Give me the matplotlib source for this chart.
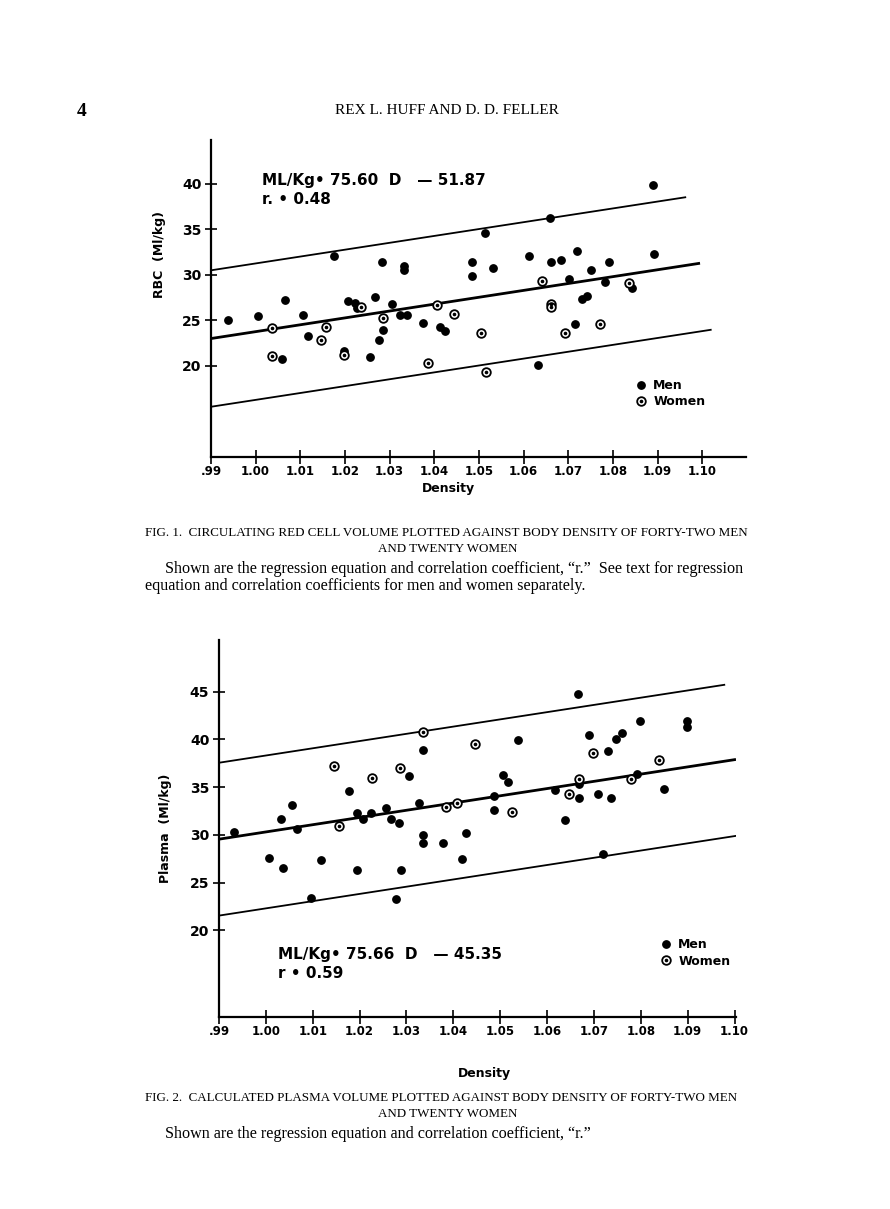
import matplotlib
matplotlib.use("Agg")
import matplotlib.pyplot as plt
from matplotlib.lines import Line2D

# ---- data ----
density_ticks = [0.99, 1.00, 1.01, 1.02, 1.03, 1.04, 1.05, 1.06, 1.07, 1.08, 1.09, 1.10]
density_labels = [".99", "1.00", "1.01", "1.02", "1.03", "1.04", "1.05", "1.06",
                  "1.07", "1.08", "1.09", "1.10"]

# Fig 1: red cell volume (ml/kg)
rbc_men_x = [0.9938, 1.0005, 1.0065, 1.0059, 1.0106, 1.0117, 1.0176, 1.0207, 1.0222,
             1.0226, 1.0197, 1.0256, 1.0268, 1.0276, 1.0285, 1.0284, 1.0306, 1.0323,
             1.0338, 1.0333, 1.0333, 1.0375, 1.0413, 1.0425, 1.0484, 1.0484, 1.0513,
             1.0532, 1.0611, 1.0659, 1.0661, 1.0683, 1.0633, 1.0702, 1.0714, 1.0720,
             1.0730, 1.0743, 1.0751, 1.0783, 1.0791, 1.0842, 1.0889, 1.0891]
rbc_men_y = [25.0, 25.4, 27.2, 20.75, 25.6, 23.2, 32.1, 27.1, 26.9,
             26.3, 21.6, 20.9, 27.5, 22.8, 23.9, 31.4, 26.8, 25.6,
             25.6, 31.0, 30.5, 24.7, 24.2, 23.8, 31.4, 29.8, 34.6,
             30.7, 32.1, 36.2, 31.4, 31.6, 20.1, 29.5, 24.6, 32.6,
             27.3, 27.7, 30.5, 29.2, 31.4, 28.5, 39.8, 32.3]
rbc_women_x = [1.0037, 1.0037, 1.0157, 1.0146, 1.0197, 1.0235, 1.0285, 1.0385, 1.0405,
               1.0444, 1.0504, 1.0516, 1.0642, 1.0662, 1.0662, 1.0693, 1.0772, 1.0835]
rbc_women_y = [24.1, 21.1, 24.2, 22.8, 21.2, 26.4, 25.2, 20.3, 26.7,
               25.7, 23.6, 19.3, 29.3, 26.8, 26.4, 23.6, 24.6, 29.1]
rbc_slope, rbc_icpt, rbc_band = 75.60, -51.87, 7.5

# Fig 2: plasma volume (ml/kg)
pl_men_x = [0.9932, 1.0006, 1.0032, 1.0036, 1.0055, 1.0066, 1.0096, 1.0117, 1.0178,
            1.0195, 1.0207, 1.0225, 1.0195, 1.0257, 1.0266, 1.0284, 1.0277, 1.0288,
            1.0305, 1.0326, 1.0335, 1.0335, 1.0335, 1.0377, 1.0418, 1.0426, 1.0487,
            1.0487, 1.0505, 1.0517, 1.0537, 1.0617, 1.0639, 1.0665, 1.0667, 1.0667,
            1.0689, 1.0709, 1.0720, 1.0729, 1.0737, 1.0747, 1.0759, 1.0791, 1.0798,
            1.0849, 1.0898, 1.0898]
pl_men_y = [30.3, 27.6, 31.7, 26.5, 33.1, 30.6, 23.4, 27.4, 34.6,
            32.3, 31.7, 32.3, 26.3, 32.8, 31.7, 31.2, 23.3, 26.3,
            36.2, 33.3, 38.9, 30.0, 29.2, 29.1, 27.5, 30.2, 34.1,
            32.6, 36.25, 35.5, 39.9, 34.7, 31.6, 44.8, 35.3, 33.9,
            40.5, 34.3, 28.0, 38.8, 33.9, 40.05, 40.7, 36.35, 41.9,
            34.8, 41.95, 41.3]
pl_women_x = [1.0145, 1.0155, 1.0226, 1.0287, 1.0335, 1.0385, 1.0407, 1.0446, 1.0525,
              1.0646, 1.0667, 1.0698, 1.0779, 1.0839]
pl_women_y = [37.2, 30.9, 36.0, 37.0, 40.8, 32.9, 33.3, 39.5, 32.4,
              34.3, 35.9, 38.6, 35.9, 37.85]
pl_slope, pl_icpt, pl_band = 75.66, -45.35, 8.0

W, H = 890, 1209
fig = plt.figure(figsize=(W / 100, H / 100), dpi=100)
fig.patch.set_facecolor("white")

SANS = "DejaVu Sans"
SERIF = "Liberation Serif"


def px(x, y):
    return x / W, 1 - y / H


def add_axes_px(left, top, right, bottom):
    return fig.add_axes([left / W, 1 - bottom / H, (right - left) / W, (bottom - top) / H])


def draw_panel(ax, mx, my, wx, wy, slope, icpt, band, ends, xlim, ylim, yticks, legend_at):
    ax.set_xlim(*xlim)
    ax.set_ylim(*ylim)
    for side in ("top", "right"):
        ax.spines[side].set_visible(False)
    for side in ("left", "bottom"):
        ax.spines[side].set_linewidth(1.6)
    ax.set_xticks(density_ticks)
    ax.set_xticklabels(density_labels, fontsize=8.5, fontweight="bold", family=SANS)
    ax.set_yticks(yticks)
    ax.set_yticklabels([str(v) for v in yticks], fontsize=10, fontweight="bold", family=SANS)
    ax.tick_params(axis="x", direction="inout", length=10, width=1.2, pad=1)
    ax.tick_params(axis="y", direction="inout", length=8, width=1.2, pad=3)

    # regression line and the two outer bands
    for off, x_end, lw in ((band, ends[0], 1.3), (0, ends[1], 2.0), (-band, ends[2], 1.3)):
        xs = [0.99, x_end]
        ax.plot(xs, [slope * x + icpt + off for x in xs], color="black", lw=lw, zorder=2)

    ax.plot(mx, my, "o", color="black", ms=5.3, zorder=3, linestyle="none")
    ax.plot(wx, wy, "o", mfc="white", mec="black", mew=1.3, ms=6.2, zorder=3, linestyle="none")
    ax.plot(wx, wy, "o", color="black", ms=1.6, zorder=4, linestyle="none")

    h_men = Line2D([], [], marker="o", color="black", ms=5.3, linestyle="none")
    h_w1 = Line2D([], [], marker="o", mfc="white", mec="black", mew=1.3, ms=6.2, linestyle="none")
    h_w2 = Line2D([], [], marker="o", color="black", ms=1.6, linestyle="none")
    leg = ax.legend([h_men, (h_w1, h_w2)], ["Men", "Women"], loc="upper left",
                    bbox_to_anchor=legend_at, frameon=False, borderpad=0,
                    handlelength=1.0, handletextpad=0.5, labelspacing=0.25,
                    prop={"family": SANS, "weight": "bold", "size": 9})
    return leg


# ---- Fig 1 ----
ax1 = add_axes_px(211, 140, 746, 457)
draw_panel(ax1, rbc_men_x, rbc_men_y, rbc_women_x, rbc_women_y,
           rbc_slope, rbc_icpt, rbc_band, (1.0962, 1.0992, 1.1019),
           (0.99, 1.1098), (9.95, 44.8), [20, 25, 30, 35, 40], (0.78, 0.265))

# ---- Fig 2 ----
ax2 = add_axes_px(219, 640, 736, 1017)
draw_panel(ax2, pl_men_x, pl_men_y, pl_women_x, pl_women_y,
           pl_slope, pl_icpt, pl_band, (1.0978, 1.1000, 1.1025),
           (0.99, 1.1003), (10.94, 50.4), [20, 25, 30, 35, 40, 45], (0.84, 0.225))

# equations
eq = dict(fontsize=11, fontweight="bold", family=SANS, va="center", ha="left")
fig.text(*px(262, 181), "ML/Kg\u2022 75.60  D   \u2014 51.87", **eq)
fig.text(*px(262, 199), "r. \u2022 0.48", **eq)
fig.text(*px(278, 955), "ML/Kg\u2022 75.66  D   \u2014 45.35", **eq)
fig.text(*px(278, 973), "r \u2022 0.59", **eq)

# axis titles
fig.text(*px(160, 255), "RBC  (Ml/kg)", rotation=90, fontsize=9, fontweight="bold",
         family=SANS, ha="center", va="center")
fig.text(*px(165, 828), "Plasma  (Ml/kg)", rotation=90, fontsize=9, fontweight="bold",
         family=SANS, ha="center", va="center")
fig.text(*px(448, 489), "Density", fontsize=9, fontweight="bold", family=SANS,
         ha="center", va="center")
fig.text(*px(484, 1073), "Density", fontsize=9, fontweight="bold", family=SANS,
         ha="center", va="center")

# page header
fig.text(*px(82, 111), "4", fontsize=14, fontweight="bold", family=SERIF,
         ha="center", va="center")
fig.text(*px(447, 111), "REX L. HUFF AND D. D. FELLER", fontsize=11, family=SERIF,
         ha="center", va="center")

# captions
cap = dict(family=SERIF, va="center")
fig.text(*px(145, 533), "FIG. 1.  CIRCULATING RED CELL VOLUME PLOTTED AGAINST BODY DENSITY OF FORTY-TWO MEN",
         fontsize=9.4, ha="left", **cap)
fig.text(*px(448, 549), "AND TWENTY WOMEN", fontsize=9.4, ha="center", **cap)
fig.text(*px(165, 569), "Shown are the regression equation and correlation coefficient, \u201cr.\u201d  See text for regression",
         fontsize=11.6, ha="left", **cap)
fig.text(*px(145, 586), "equation and correlation coefficients for men and women separately.",
         fontsize=11.6, ha="left", **cap)

fig.text(*px(145, 1098), "FIG. 2.  CALCULATED PLASMA VOLUME PLOTTED AGAINST BODY DENSITY OF FORTY-TWO MEN",
         fontsize=9.4, ha="left", **cap)
fig.text(*px(448, 1114), "AND TWENTY WOMEN", fontsize=9.4, ha="center", **cap)
fig.text(*px(165, 1134), "Shown are the regression equation and correlation coefficient, \u201cr.\u201d",
         fontsize=11.6, ha="left", **cap)

fig.savefig("out.png", dpi=100, facecolor="white")
